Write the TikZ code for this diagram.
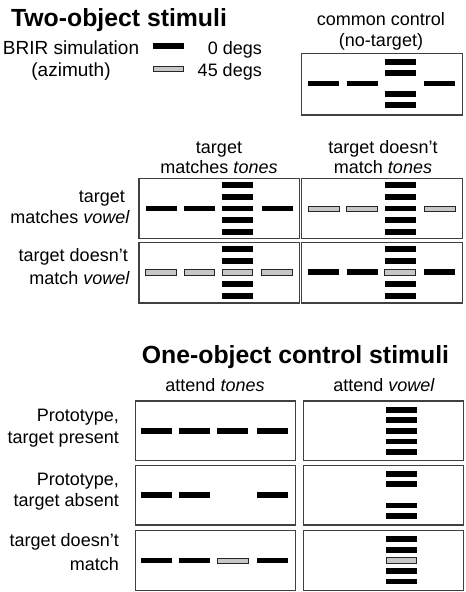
\documentclass[tikz,border=0pt]{standalone}
\usepackage{fontspec}
\setmainfont{Liberation Sans}
\newcommand{\bk}[2]{\fill[blackbar] (#1-15.5,#2-2.9) rectangle (#1+15.5,#2+2.9);}
\newcommand{\gy}[2]{\filldraw[graybar] (#1-15.2,#2-2.6) rectangle (#1+15.2,#2+2.6);}
\newcommand{\panelbox}[3]{\draw[panel] (#1,#2) rectangle (#1+160.5,#3);}
\begin{document}
\begin{tikzpicture}[x=1pt,y=-1pt,
  lab/.style={inner sep=0pt,font=\fontsize{18}{21}\selectfont},
  leglab/.style={inner sep=0pt,font=\fontsize{19}{22}\selectfont},
  ttl/.style={inner sep=0pt,font=\fontsize{24.8}{30}\selectfont\bfseries},
  panel/.style={draw=black!75,line width=1.1pt},
  blackbar/.style={fill=black},
  graybar/.style={fill=black!22,draw=black!85,line width=0.8pt}]
\useasboundingbox (0,0) rectangle (466,592);

% ---------- titles ----------
\node[ttl,anchor=base] (t1) at (119,26) {Two-object stimuli};
\node[ttl,anchor=base] (t2) at (295.5,363.3) {One-object control stimuli};

% ---------- legend ----------
\node[leglab,anchor=base] (brir) at (71,54) {BRIR simulation};
\node[leglab,anchor=base] (azi) at (71,76) {(azimuth)};
\bk{168.5}{45.6}
\gy{168.5}{69.2}
\node[lab,anchor=base east] (deg0) at (262,54) {0 degs};
\node[lab,anchor=base east] (deg45) at (262,76) {45 degs};

% ---------- common control ----------
\node[lab,anchor=base] (cc1) at (381,25) {common control};
\node[lab,anchor=base] (cc2) at (381,46.5) {(no-target)};
\panelbox{301.7}{53.3}{115}
\bk{323.7}{83.5}\bk{362}{83.5}\bk{439.7}{83.5}
\bk{400}{62.2}\bk{400}{72.8}\bk{400}{94.2}\bk{400}{104.8}

% ---------- two-object headers ----------
\node[lab,anchor=base] (h1a) at (219,153.3) {target};
\node[lab,anchor=base] (h1b) at (219,173.3) {matches \textit{tones}};
\node[lab,anchor=base] (h2a) at (383,153.3) {target doesn’t};
\node[lab,anchor=base] (h2b) at (383,173.3) {match \textit{tones}};

\node[lab,anchor=base east] (r1a) at (125,202.7) {target};
\node[lab,anchor=base east] (r1b) at (130,223.3) {matches \textit{vowel}};
\node[lab,anchor=base east] (r2a) at (128,261.7) {target doesn’t};
\node[lab,anchor=base east] (r2b) at (130,284.3) {match \textit{vowel}};

% row 1 left
\panelbox{139}{178.5}{238.3}
\bk{161}{208.5}\bk{199.3}{208.5}\bk{277}{208.5}
\bk{237.3}{185.1}\bk{237.3}{196.8}\bk{237.3}{208.5}\bk{237.3}{220.2}\bk{237.3}{231.9}
% row 1 right
\panelbox{301.7}{178.5}{238.3}
\gy{323.7}{208.5}\gy{362}{208.5}\gy{439.7}{208.5}
\bk{400}{185.1}\bk{400}{196.8}\bk{400}{208.5}\bk{400}{220.2}\bk{400}{231.9}
% row 2 left
\panelbox{139}{242.5}{303}
\gy{161}{272.3}\gy{199.3}{272.3}\gy{277}{272.3}
\bk{237.3}{248.9}\bk{237.3}{260.6}\gy{237.3}{272.3}\bk{237.3}{284}\bk{237.3}{295.7}
% row 2 right
\panelbox{301.7}{242.5}{303}
\bk{323.7}{272.3}\bk{362}{272.3}\bk{439.7}{272.3}
\bk{400}{248.9}\bk{400}{260.6}\gy{400}{272.3}\bk{400}{284}\bk{400}{295.7}

% ---------- one-object ----------
\node[lab,anchor=base] (a1) at (215,391.7) {attend \textit{tones}};
\node[lab,anchor=base] (a2) at (384,391.7) {attend \textit{vowel}};

\node[lab,anchor=base east] (p1a) at (119,421.7) {Prototype,};
\node[lab,anchor=base east] (p1b) at (119,443.3) {target present};
\node[lab,anchor=base east] (p2a) at (119,485) {Prototype,};
\node[lab,anchor=base east] (p2b) at (119,506.7) {target absent};
\node[lab,anchor=base east] (p3a) at (119,546.7) {target doesn’t};
\node[lab,anchor=base east] (p3b) at (119,570) {match};

% row 1
\panelbox{135.3}{401}{460.8}
\bk{156.5}{430.8}\bk{194.8}{430.8}\bk{232.8}{430.8}\bk{272.4}{430.8}
\panelbox{303.3}{401}{460.8}
\bk{401.5}{409.6}\bk{401.5}{420.2}\bk{401.5}{430.8}\bk{401.5}{441.4}\bk{401.5}{452}
% row 2
\panelbox{135.3}{465.3}{525}
\bk{156.5}{495.3}\bk{194.8}{495.3}\bk{272.4}{495.3}
\panelbox{303.3}{465.3}{525}
\bk{401.5}{473.7}\bk{401.5}{484.3}\bk{401.5}{505.5}\bk{401.5}{516.1}
% row 3
\panelbox{135.3}{530.5}{590.3}
\bk{156.5}{560.5}\bk{194.8}{560.5}\gy{232.8}{560.5}\bk{272.4}{560.5}
\panelbox{303.3}{530.5}{590.3}
\bk{401.5}{539.1}\bk{401.5}{549.7}\gy{401.5}{560.3}\bk{401.5}{570.9}\bk{401.5}{581.5}
\end{tikzpicture}
\end{document}
